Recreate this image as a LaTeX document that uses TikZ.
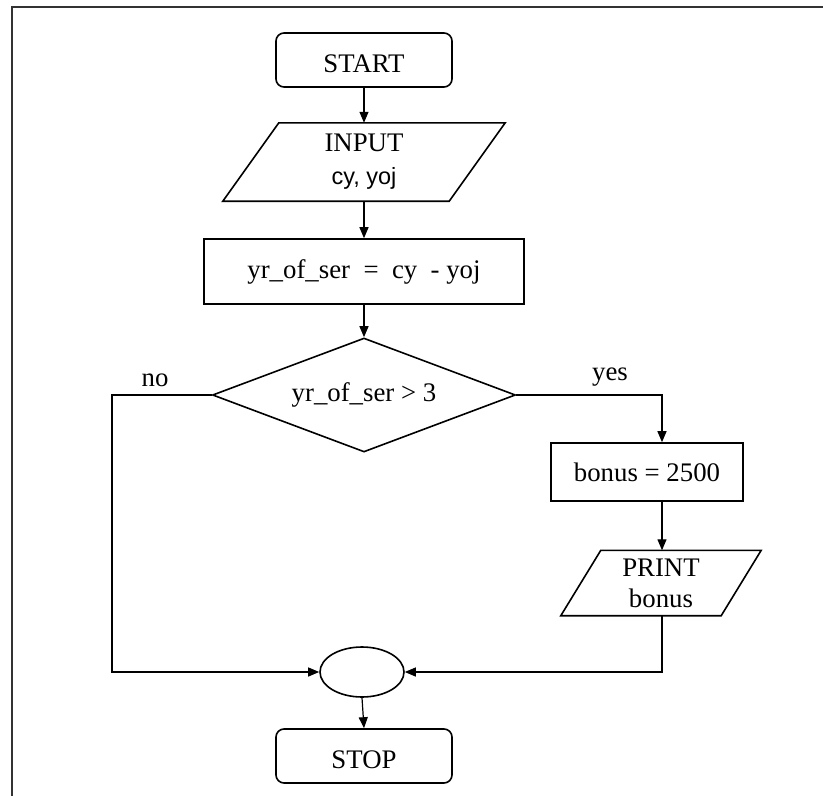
\documentclass[tikz,border=0pt]{standalone}
\usepackage{fontspec}
\setmainfont{Liberation Serif}
\newfontfamily\sansf{Liberation Sans}
\usetikzlibrary{shapes.geometric,arrows.meta,calc}
\begin{document}
\begin{tikzpicture}[x=1pt,y=-1pt,
  every node/.style={font=\fontsize{26.8}{31}\selectfont, inner sep=0pt},
  outline/.style={draw, line width=1.6pt},
  term/.style={outline, rounded corners=8pt, minimum width=176pt, minimum height=54pt,
    text height=25pt, text depth=0pt},
  rectbox/.style={outline},
  iobox/.style={align=center},
  para/.style={outline, line join=miter},
  conn/.style={line width=1.2pt, -{Triangle[length=11pt,width=9pt]}},
  framestyle/.style={line width=2.4pt, draw=black!80}]
\useasboundingbox (0,0) rectangle (823,796);
\draw[framestyle] (12,796) -- (12,7) -- (823,7);

\node[term] (start) at (364,60) {START};
\node[iobox, minimum width=226pt, minimum height=78pt] (input) at (364,162)
  {INPUT\\[2pt]{\sansf\fontsize{23.5}{28}\selectfont cy, yoj}};
\draw[para] ($(input.north west)+(28,0)$) -- ($(input.north east)+(28,0)$)
  -- ($(input.south east)+(-28,0)$) -- ($(input.south west)+(-28,0)$) -- cycle;
\node[rectbox, minimum width=320pt, minimum height=65pt] (proc) at (364,271.5)
  {yr\_of\_ser\ \ =\ \ cy\ \ -\ yoj};
\node[outline, diamond, aspect=2.66, minimum width=303pt, minimum height=114pt] (dec) at (364,395)
  {yr\_of\_ser > 3};
\node[rectbox, minimum width=192pt, minimum height=58pt] (bonus) at (647,472) {bonus = 2500};
\node[iobox, minimum width=160pt, minimum height=65pt] (print) at (661,583) {PRINT\\[0pt]bonus};
\draw[para] ($(print.north west)+(20,0)$) -- ($(print.north east)+(20,0)$)
  -- ($(print.south east)+(-20,0)$) -- ($(print.south west)+(-20,0)$) -- cycle;
\node[outline, ellipse, minimum width=84pt, minimum height=50pt] (merge) at (362,672) {};
\node[term] (stop) at (364,756) {STOP};

\node (nolab) at (155,380) {no};
\node (yeslab) at (610,377) {yes};

\coordinate (nocorner) at (112,395);
\coordinate (yescorner) at (662,395);

\draw[conn] (start.south) -- (input.north);
\draw[conn] (input.south) -- (proc.north);
\draw[conn] (proc.south) -- (dec.north);
\draw[conn] (dec.west) -- (nocorner) |- (merge.west);
\draw[conn] (dec.east) -- (yescorner) -- (yescorner |- bonus.north);
\draw[conn] (yescorner |- bonus.south) -- (yescorner |- print.north);
\draw[conn] (yescorner |- print.south) |- (merge.east);
\draw[conn] (merge.south) -- (stop.north);
\end{tikzpicture}
\end{document}
